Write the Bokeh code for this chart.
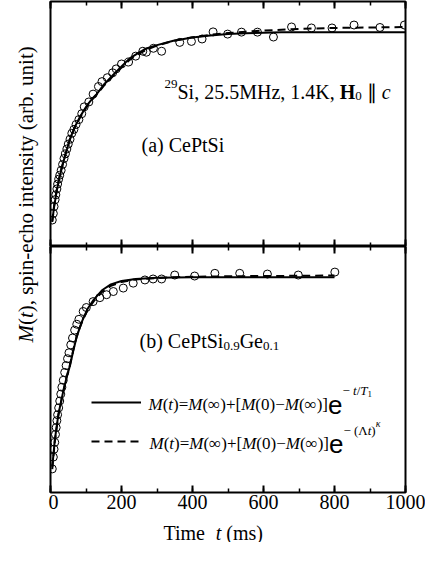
import math
from bokeh.plotting import figure
from bokeh.models import (LinearAxis, SingleIntervalTicker, Label, Range1d,
                          Legend, LegendItem, CustomJSTickFormatter)
from bokeh.layouts import row, column
from bokeh.embed import file_html
from bokeh.resources import INLINE

# ---------------- data ----------------
# panel (a) CePtSi : measured points (time in ms, normalised intensity)
a_time = [5, 8, 10, 13, 15, 18, 20, 23, 26, 30, 34, 38, 42, 46, 50, 55, 60, 66,
          72, 80, 88, 95, 108, 120, 135, 145, 160, 175, 185, 200, 220, 240, 260,
          270, 290, 313, 364, 397, 427, 458, 499, 538, 583, 628, 679, 735, 793,
          855, 928, 997]
a_signal = [0.108, 0.135, 0.163, 0.191, 0.211, 0.235, 0.255, 0.275, 0.291, 0.311,
            0.335, 0.359, 0.378, 0.398, 0.418, 0.438, 0.462, 0.478, 0.498, 0.518,
            0.542, 0.570, 0.590, 0.622, 0.653, 0.673, 0.689, 0.709, 0.725, 0.745,
            0.753, 0.777, 0.797, 0.793, 0.809, 0.797, 0.833, 0.837, 0.847, 0.876,
            0.867, 0.875, 0.875, 0.855, 0.896, 0.892, 0.892, 0.904, 0.894, 0.904]
# panel (a) fitted curves
a_fit_time = [5, 10, 17, 25, 31, 40, 54, 68, 82, 95, 106, 118, 130, 150, 177, 200,
              223, 250, 270, 300, 346, 400, 450, 500, 550, 600, 650, 700, 800, 900, 1000]
a_fit_single = [0.105, 0.160, 0.223, 0.280, 0.316, 0.365, 0.435, 0.487, 0.526, 0.558,
                0.582, 0.604, 0.622, 0.660, 0.701, 0.735, 0.768, 0.792, 0.808, 0.822,
                0.840, 0.853, 0.861, 0.867, 0.870, 0.872, 0.874, 0.875, 0.875, 0.875, 0.875]
a_fit_stretched = [0.100, 0.165, 0.228, 0.283, 0.318, 0.366, 0.434, 0.485, 0.523, 0.555,
                   0.579, 0.601, 0.620, 0.656, 0.697, 0.730, 0.762, 0.787, 0.803, 0.820,
                   0.839, 0.854, 0.864, 0.871, 0.877, 0.881, 0.885, 0.888, 0.892, 0.894, 0.896]

# panel (b) CePtSi0.9Ge0.1 : measured points
b_time = [5, 8, 10, 12, 14, 16, 18, 20, 23, 26, 29, 32, 36, 40, 44, 48, 52, 57, 62,
          68, 74, 80, 92, 101, 120, 139, 158, 177, 205, 233, 266, 289, 313, 350, 406,
          463, 533, 611, 698, 801]
b_signal = [0.096, 0.144, 0.176, 0.204, 0.236, 0.264, 0.292, 0.316, 0.344, 0.372,
            0.400, 0.428, 0.456, 0.488, 0.516, 0.544, 0.568, 0.600, 0.628, 0.660,
            0.684, 0.704, 0.736, 0.752, 0.776, 0.792, 0.804, 0.817, 0.831, 0.851,
            0.864, 0.868, 0.868, 0.884, 0.880, 0.891, 0.891, 0.888, 0.884, 0.896]
# panel (b) fitted curves
b_fit_time = [5, 12, 22, 36, 45, 55, 64, 73, 82, 90, 105, 122, 145, 170, 200, 240,
              300, 350, 400, 500, 600, 700, 800]
b_fit_single = [0.104, 0.212, 0.316, 0.412, 0.466, 0.516, 0.575, 0.628, 0.668, 0.700,
                0.748, 0.784, 0.822, 0.846, 0.860, 0.868, 0.873, 0.874, 0.875, 0.875,
                0.875, 0.875, 0.875]
b_fit_stretched = [0.095, 0.205, 0.312, 0.412, 0.468, 0.520, 0.578, 0.630, 0.668, 0.698,
                   0.743, 0.778, 0.815, 0.840, 0.856, 0.866, 0.872, 0.875, 0.877, 0.879,
                   0.880, 0.881, 0.882]

x_tick_step = 200
x_start, x_end = 0, 1000

# ---------------- layout helpers ----------------
SERIF = "Liberation Serif"
SANS = "Liberation Sans"
PAGE_BOTTOM = 550
FRAME_L, FRAME_W = 58, 355          # page px
TOP_Y0, TOP_Y1 = 9, 254             # frame top / bottom of panel (a)
BOT_Y0, BOT_Y1 = 254, 500           # frame top / bottom of panel (b)
BOT_BORDER = 23                     # room for tick labels
STRIP_TOP = BOT_Y1 + BOT_BORDER     # x-title strip top (page px)
STRIP_H = PAGE_BOTTOM - STRIP_TOP
FIG_W = FRAME_W + 22

W = {' ': 250, '(': 333, ')': 333, ',': 250, '-': 333, '.': 250, '=': 564, '+': 564,
     '[': 333, ']': 333, '/': 278, '−': 564, '∞': 713, '∥': 500, 'Λ': 722, 'κ': 550,
     'A': 722, 'B': 667, 'C': 667, 'D': 722, 'E': 611, 'F': 556, 'G': 722, 'H': 722,
     'I': 333, 'J': 389, 'K': 722, 'L': 611, 'M': 889, 'N': 722, 'O': 722, 'P': 556,
     'Q': 722, 'R': 667, 'S': 556, 'T': 611, 'U': 722, 'V': 722, 'W': 944, 'X': 722,
     'Y': 722, 'Z': 611, 'a': 444, 'b': 500, 'c': 444, 'd': 500, 'e': 444, 'f': 333,
     'g': 500, 'h': 500, 'i': 278, 'j': 278, 'k': 500, 'l': 278, 'm': 778, 'n': 500,
     'o': 500, 'p': 500, 'q': 500, 'r': 333, 's': 389, 't': 278, 'u': 500, 'v': 500,
     'w': 722, 'x': 500, 'y': 500, 'z': 444}
ITAL = {'M': 833, 't': 278, 'c': 444, 'T': 556, 'κ': 550}
BOLD = {'H': 778}


def tw(s, size, style="normal", font=SERIF):
    if font == SANS:
        return len(s) * 556 * size / 1000
    tot = 0
    for ch in s:
        if style == "italic" and ch in ITAL:
            tot += ITAL[ch]
        elif style == "bold" and ch in BOLD:
            tot += BOLD[ch]
        else:
            tot += W.get(ch, 500)
    return tot * size / 1000


def place(p, x, y, pieces, angle=0.0):
    """pieces: (text, size, style, dy, font) laid out along the baseline."""
    adv = 0.0
    for text, size, style, dy, font in pieces:
        stripped = text.lstrip(' ')
        lead = tw(text[:len(text) - len(stripped)], size, style, font)
        body = stripped.rstrip(' ')
        if body:
            pos = adv + lead
            if angle:
                xo, yo = -dy, pos
            else:
                xo, yo = pos, dy
            p.add_layout(Label(x=x, y=y, x_offset=xo, y_offset=yo, text=body,
                               text_font=font, text_font_size=f"{size}px",
                               text_font_style=style, text_color="black",
                               text_align="left", text_baseline="alphabetic",
                               angle=angle))
        adv += tw(text, size, style, font)


def tx(px):
    return (px - FRAME_L) / FRAME_W * (x_end - x_start) + x_start


def bare(width, height, xr, yr, left=0, right=0, top=0, bottom=0):
    p = figure(width=width, height=height, x_range=xr, y_range=yr, title=None,
               x_axis_location=None, y_axis_location=None,
               min_border=0, min_border_left=left, min_border_right=right,
               min_border_top=top, min_border_bottom=bottom,
               toolbar_location=None, output_backend="svg",
               background_fill_color="white", border_fill_color="white")
    p.grid.visible = False
    return p


def panel(frame_h, b_top, b_bottom, labels):
    p = bare(FIG_W, frame_h + b_top + b_bottom, Range1d(x_start, x_end), Range1d(0, 1),
             left=2, right=20, top=b_top, bottom=b_bottom)
    p.outline_line_color = "black"
    p.outline_line_width = 2
    for loc in ("above", "below"):
        ax = LinearAxis(ticker=SingleIntervalTicker(interval=x_tick_step, num_minor_ticks=2))
        ax.axis_line_color = None
        ax.major_tick_in = 7
        ax.major_tick_out = 0
        ax.minor_tick_in = 4
        ax.minor_tick_out = 0
        ax.major_tick_line_width = 2
        ax.minor_tick_line_width = 1.5
        ax.major_tick_line_color = "black"
        ax.minor_tick_line_color = "black"
        if loc == "below" and labels:
            ax.major_label_text_font = SERIF
            ax.major_label_text_font_size = "20px"
            ax.major_label_text_color = "black"
            ax.major_label_standoff = 2
        else:
            ax.formatter = CustomJSTickFormatter(code="return ''")
            ax.major_label_text_font_size = "1px"
            ax.major_label_standoff = 0
        p.add_layout(ax, loc)
    return p


def draw(p, t, m, ft, f1, f2):
    p.scatter(t, m, marker="circle", size=8, fill_color=None,
              line_color="black", line_width=1)
    r1 = p.line(ft, f1, line_color="black", line_width=2)
    r2 = p.line(ft, f2, line_color="black", line_width=2, line_dash="8 5")
    return r1, r2


# ---------------- panel (a) ----------------
p1 = panel(TOP_Y1 - TOP_Y0, 1, 0, False)
draw(p1, a_time, a_signal, a_fit_time, a_fit_single, a_fit_stretched)


def ya(py):
    return (TOP_Y1 - py) / (TOP_Y1 - TOP_Y0)


place(p1, tx(172), ya(99), [
    ("29", 13, "normal", 8, SERIF),
    ("Si, 25.5MHz, 1.4K, ", 20, "normal", 0, SERIF),
    ("H", 20, "bold", 0, SERIF),
    ("0", 13, "normal", -4, SERIF),
    (" ∥ ", 20, "normal", 0, SERIF),
    ("c", 20, "italic", 0, SERIF),
])
place(p1, tx(149), ya(152), [("(a) CePtSi", 20, "normal", 0, SERIF)])

# ---------------- panel (b) ----------------
p2 = panel(BOT_Y1 - BOT_Y0, 0, BOT_BORDER, True)
r1, r2 = draw(p2, b_time, b_signal, b_fit_time, b_fit_single, b_fit_stretched)


def yb(py):
    return (BOT_Y1 - py) / (BOT_Y1 - BOT_Y0)


place(p2, tx(147), yb(348), [
    ("(b) CePtSi", 20, "normal", 0, SERIF),
    ("0.9", 13, "normal", -5, SERIF),
    ("Ge", 20, "normal", 0, SERIF),
    ("0.1", 13, "normal", -5, SERIF),
])

main_formula = [
    ("M", 17, "italic", 0, SERIF), ("(", 17, "normal", 0, SERIF),
    ("t", 17, "italic", 0, SERIF), (")=", 17, "normal", 0, SERIF),
    ("M", 17, "italic", 0, SERIF), ("(∞)+[", 17, "normal", 0, SERIF),
    ("M", 17, "italic", 0, SERIF), ("(0)−", 17, "normal", 0, SERIF),
    ("M", 17, "italic", 0, SERIF), ("(∞)]", 17, "normal", 0, SERIF),
    ("e", 26, "normal", 0, SANS),
]
place(p2, tx(156), yb(412), main_formula + [
    ("− ", 13, "normal", 14, SERIF), ("t", 13, "italic", 14, SERIF),
    ("/", 13, "normal", 14, SERIF), ("T", 13, "italic", 14, SERIF),
    ("1", 9, "normal", 11, SERIF),
])
place(p2, tx(157), yb(451), main_formula + [
    ("− (", 13, "normal", 13, SERIF), ("Λ", 13, "normal", 13, SERIF),
    ("t", 13, "italic", 13, SERIF), (")", 13, "normal", 13, SERIF),
    ("κ", 10, "italic", 20, SERIF),
])

legend = Legend(items=[LegendItem(label=" ", renderers=[r1]),
                       LegendItem(label=" ", renderers=[r2])],
                location=(41, 41), glyph_width=50, glyph_height=20,
                label_height=20, label_width=1, label_text_font_size="1px",
                spacing=19, padding=0, margin=0, border_line_color=None,
                background_fill_alpha=0)
p2.add_layout(legend)

# ---------------- x title strip (page px == data units) ----------------
px_left = FRAME_L - 2
ps = bare(FIG_W, STRIP_H, Range1d(px_left, px_left + FIG_W), Range1d(0, STRIP_H))
ps.outline_line_color = None
place(ps, 176, PAGE_BOTTOM - 540, [
    ("Time  ", 20, "normal", 0, SERIF),
    ("t", 20, "italic", 0, SERIF),
    (" (ms)", 20, "normal", 0, SERIF),
])

# ---------------- y title strip ----------------
LH = PAGE_BOTTOM - 8
pl = bare(48, LH, Range1d(0, 48), Range1d(0, LH))
pl.outline_line_color = None
place(pl, 33 - 8, PAGE_BOTTOM - 350, [
    ("M", 21, "italic", 0, SERIF), ("(", 21, "normal", 0, SERIF),
    ("t", 21, "italic", 0, SERIF),
    ("), spin-echo intensity (arb. unit)", 21, "normal", 0, SERIF),
], angle=math.pi / 2)

layout = row(pl, column(p1, p2, ps, spacing=0), spacing=0)
open("out.html", "w").write(file_html(layout, INLINE))
